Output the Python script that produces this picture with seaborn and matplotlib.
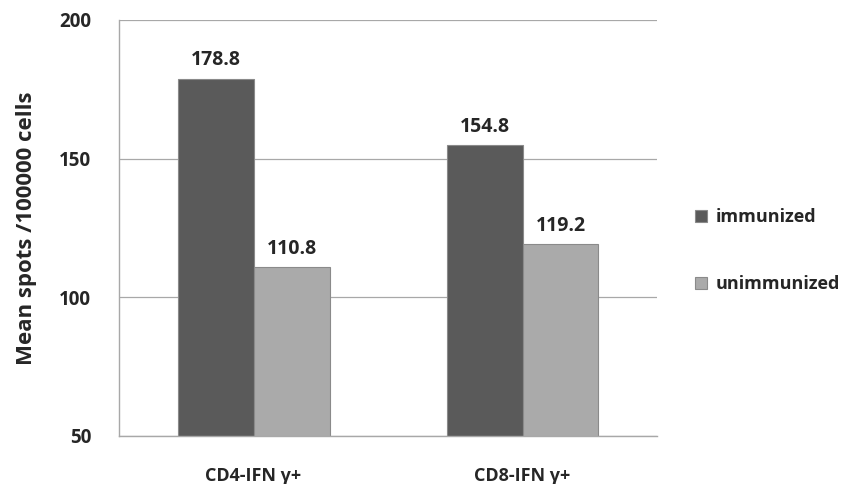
import matplotlib
matplotlib.use("Agg")
import matplotlib.pyplot as plt
import seaborn as sns
import pandas as pd

categories = ["CD4-IFN γ+", "CD8-IFN γ+"]
groups = ["immunized", "unimmunized"]
immunized = [178.8, 154.8]
unimmunized = [110.8, 119.2]
yticks = [50, 100, 150, 200]

df = pd.DataFrame({
    "category": categories * 2,
    "group": [groups[0]] * 2 + [groups[1]] * 2,
    "value": immunized + unimmunized,
})

sns.set_theme(style="white")
plt.rcParams["font.family"] = ["Open Sans", "DejaVu Sans"]
plt.rcParams["font.weight"] = "bold"

fig = plt.figure(figsize=(8.46, 4.84), dpi=100)
ax = fig.add_axes([0.1407, 0.0992, 0.6359, 0.8595])

palette = {"immunized": "#5a5a5a", "unimmunized": "#aaaaaa"}
sns.barplot(data=df, x="category", y="value", hue="group", order=categories,
            hue_order=groups, palette=palette, width=0.565, saturation=1,
            edgecolor="#8a8a8a", linewidth=0.8, ax=ax)

ax.set_ylim(50, 200)
ax.set_xlim(-0.5, 1.5)
ax.set_yticks(yticks)
ax.set_yticklabels([str(t) for t in yticks], fontsize=13.5, fontweight="bold")
ax.yaxis.grid(True, color="#a8a8a8", linewidth=0.9)
ax.set_axisbelow(True)
ax.tick_params(axis="y", length=0, pad=20)
ax.tick_params(axis="x", length=0, pad=22, labelsize=13)
for lab in ax.get_xticklabels():
    lab.set_fontweight("bold")
ax.set_xticks([0.5], minor=True)
ax.tick_params(axis="x", which="minor", length=6, color="#a8a8a8", width=1)

for s in ["top", "right"]:
    ax.spines[s].set_visible(False)
for s in ["left", "bottom"]:
    ax.spines[s].set_color("#a8a8a8")
    ax.spines[s].set_linewidth(1)

ax.set_xlabel("")
ax.set_ylabel("Mean spots /100000 cells", fontsize=16, fontweight="bold", labelpad=16)

for cont in ax.containers:
    ax.bar_label(cont, labels=[f"{v:.1f}" for v in cont.datavalues],
                 padding=6, fontsize=14, fontweight="bold")

handles, labels = ax.get_legend_handles_labels()
leg = ax.legend(handles, labels, loc="center left", bbox_to_anchor=(1.04, 0.445),
                frameon=False, handlelength=0.7, handleheight=0.7,
                labelspacing=2.7, handletextpad=0.45,
                prop={"family": ["Open Sans", "DejaVu Sans"], "weight": "bold", "size": 13})

fig.savefig("out.png", dpi=100)
